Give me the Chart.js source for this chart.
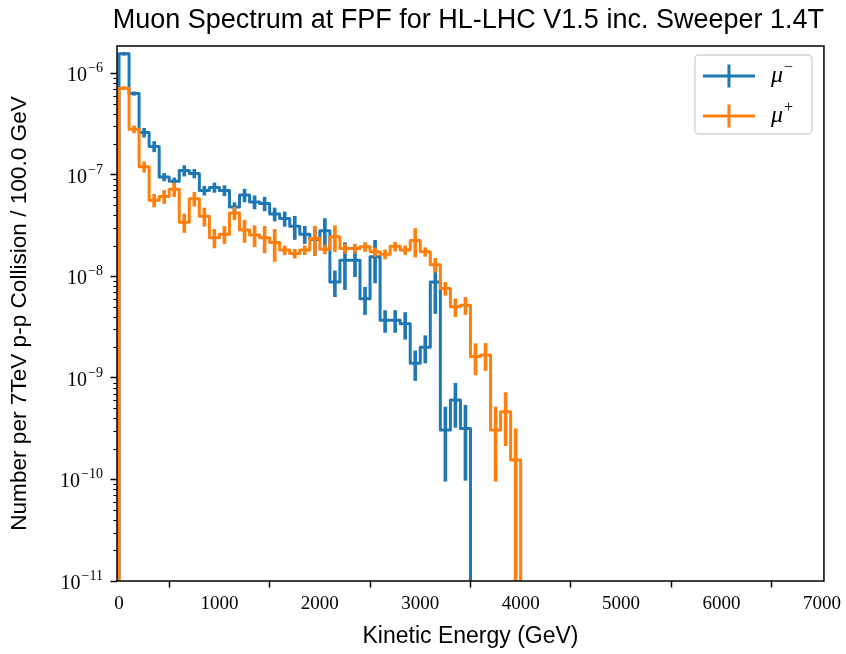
<!DOCTYPE html>
<html>
<head>
<meta charset="utf-8">
<title>Muon Spectrum at FPF</title>
<script src="https://cdn.jsdelivr.net/npm/chart.js@4.4.1/dist/chart.umd.min.js"></script>
<style>
  html, body { margin: 0; padding: 0; background: #fff; }
</style>
</head>
<body>
<canvas id="spectrum" width="846" height="654"></canvas>
<script>
// binning in GeV, histogram starts at 0
var binWidth = 100;

// mu- rate per bin (0-100, 100-200, ...), last filled bin ends at 3500 GeV
var muMinus = [
  1.55e-6, 6.3e-7, 2.6e-7, 1.9e-7, 9.5e-8, 8.6e-8, 1.1e-7, 1.03e-7, 7.0e-8, 7.5e-8,
  7.0e-8, 4.8e-8, 6.3e-8, 5.4e-8, 5.2e-8, 4.1e-8, 3.7e-8, 3.1e-8, 2.6e-8, 2.3e-8,
  2.8e-8, 8.8e-9, 1.44e-8, 1.44e-8, 6.0e-9, 1.56e-8, 3.7e-9, 3.7e-9, 3.4e-9, 1.39e-9,
  2.0e-9, 8.8e-9, 3.06e-10, 6.05e-10, 3.18e-10
];
var muMinusErr = [
  5e-8, 2.5e-8, 2.6e-8, 2.2e-8, 8e-9, 7e-9, 1.3e-8, 1.0e-8, 7e-9, 8e-9,
  8e-9, 5e-9, 9e-9, 8e-9, 8e-9, 6e-9, 6e-9, 8e-9, 5e-9, 7e-9,
  9e-9, 2.5e-9, 7e-9, 4.5e-9, 1.8e-9, 7e-9, 9e-10, 9e-10, 1.0e-9, 4.5e-10,
  6e-10, 4.5e-9, 2.1e-10, 2.8e-10, 2.2e-10
];

// mu+ rate per bin, last filled bin ends at 4000 GeV
var muPlus = [
  7.1e-7, 2.8e-7, 1.2e-7, 5.6e-8, 6.1e-8, 7.2e-8, 3.4e-8, 5.8e-8, 3.9e-8, 2.4e-8,
  2.6e-8, 4.2e-8, 2.85e-8, 2.55e-8, 2.4e-8, 2.15e-8, 1.81e-8, 1.68e-8, 1.81e-8, 2.36e-8,
  1.85e-8, 2.45e-8, 1.88e-8, 1.88e-8, 1.95e-8, 1.74e-8, 1.65e-8, 1.97e-8, 1.81e-8, 2.25e-8,
  1.74e-8, 1.3e-8, 7.6e-9, 5.0e-9, 5.2e-9, 1.62e-9, 1.68e-9, 3.06e-10, 4.65e-10, 1.55e-10
];
var muPlusErr = [
  2.5e-8, 2.2e-8, 1.4e-8, 8e-9, 9e-9, 1.1e-8, 7e-9, 9e-9, 8e-9, 5e-9,
  5e-9, 6e-9, 7e-9, 6e-9, 7e-9, 7.5e-9, 1.8e-9, 1.7e-9, 1.8e-9, 7.5e-9,
  1.9e-9, 7e-9, 1.9e-9, 1.9e-9, 2e-9, 1.7e-9, 1.7e-9, 2e-9, 1.8e-9, 7e-9,
  1.7e-9, 2e-9, 1.1e-9, 1.0e-9, 1.0e-9, 5.5e-10, 5e-10, 2.1e-10, 2.5e-10, 1.6e-10
];

var xTicks = [0, 1000, 2000, 3000, 4000, 5000, 6000, 7000];
var yTicks = [1e-11, 1e-10, 1e-9, 1e-8, 1e-7, 1e-6];
var yTickExp = ['\u221211', '\u221210', '\u22129', '\u22128', '\u22127', '\u22126'];

var seriesSymbol = ['\u03bc', '\u03bc'];
var seriesCharge = ['\u2212', '+'];
var seriesColor = ['#1f77b4', '#ff7f0e'];

var xMin = -20, xMax = 7020;
var yMin = 1e-11, yMax = 1.85e-6;

var sansFont = "'Liberation Sans', 'DejaVu Sans', sans-serif";
var serifFont = "'Liberation Serif', 'DejaVu Serif', serif";

// outline of a step histogram, dropping to the floor at both ends
function stepPoints(vals) {
  var pts = [{ x: 0, y: yMin }];
  vals.forEach(function (v, i) {
    pts.push({ x: i * binWidth, y: v > 0 ? v : yMin });
    pts.push({ x: (i + 1) * binWidth, y: v > 0 ? v : yMin });
  });
  pts.push({ x: vals.length * binWidth, y: yMin });
  return pts;
}

// vertical error bars at bin centres, as floating bars
function errorBars(vals, errs) {
  return vals.map(function (v, i) {
    var lo = v - errs[i];
    return { x: (i + 0.5) * binWidth, y: [lo > 0 ? lo : yMin, v + errs[i]] };
  });
}

function lineSet(i, vals, order) {
  return {
    type: 'line',
    label: seriesSymbol[i] + seriesCharge[i],
    data: stepPoints(vals),
    borderColor: seriesColor[i],
    borderWidth: 3,
    borderJoinStyle: 'round',
    tension: 0,
    pointRadius: 0,
    fill: false,
    clip: 0,
    order: order
  };
}

function barSet(i, vals, errs, order) {
  return {
    type: 'bar',
    data: errorBars(vals, errs),
    backgroundColor: seriesColor[i],
    borderWidth: 0,
    barThickness: 3,
    grouped: false,
    clip: 0,
    order: order
  };
}

// spines on all four sides, minor log ticks and the power-of-ten labels
var framePlugin = {
  id: 'frame',
  afterDraw: function (chart) {
    var a = chart.chartArea, ctx = chart.ctx, ys = chart.scales.y;
    ctx.save();
    ctx.strokeStyle = '#000';
    ctx.lineWidth = 1.1;
    for (var e = -11; e <= -6; e++) {
      for (var k = 2; k <= 9; k++) {
        var v = k * Math.pow(10, e);
        if (v >= yMax) continue;
        var py = Math.round(ys.getPixelForValue(v)) + 0.5;
        ctx.beginPath();
        ctx.moveTo(a.left - 3.7, py);
        ctx.lineTo(a.left, py);
        ctx.stroke();
      }
    }
    ctx.lineWidth = 1.5;
    ctx.strokeRect(a.left, a.top, a.right - a.left, a.bottom - a.top);

    ctx.fillStyle = '#000';
    ctx.textBaseline = 'alphabetic';
    ctx.textAlign = 'right';
    var xr = a.left - 14;
    yTicks.forEach(function (t, i) {
      var ty = ys.getPixelForValue(t);
      ctx.font = '14px ' + serifFont;
      var ew = ctx.measureText(yTickExp[i]).width;
      ctx.fillText(yTickExp[i], xr, ty - 1);
      ctx.font = '20px ' + serifFont;
      ctx.fillText('10', xr - ew - 1, ty + 8);
    });
    ctx.restore();
  }
};

// legend box in the upper right corner of the axes
var legendPlugin = {
  id: 'legendBox',
  afterDraw: function (chart) {
    var a = chart.chartArea, ctx = chart.ctx;
    var w = 117, h = 79;
    var x0 = a.right - 12 - w, y0 = a.top + 9;
    ctx.save();
    ctx.fillStyle = 'rgba(255,255,255,0.8)';
    ctx.strokeStyle = 'rgba(204,204,204,0.9)';
    ctx.lineWidth = 1.3;
    ctx.beginPath();
    ctx.roundRect(x0, y0, w, h, 4);
    ctx.fill();
    ctx.stroke();
    for (var i = 0; i < seriesColor.length; i++) {
      var cy = y0 + 21 + i * 40;
      ctx.strokeStyle = seriesColor[i];
      ctx.lineWidth = 3;
      ctx.beginPath();
      ctx.moveTo(x0 + 8, cy);
      ctx.lineTo(x0 + 60, cy);
      ctx.moveTo(x0 + 34, cy - 11.5);
      ctx.lineTo(x0 + 34, cy + 11.5);
      ctx.stroke();
      ctx.fillStyle = '#000';
      ctx.textBaseline = 'alphabetic';
      ctx.textAlign = 'left';
      ctx.font = 'italic 24px ' + serifFont;
      ctx.fillText(seriesSymbol[i], x0 + 76, cy + 6);
      ctx.font = '16px ' + serifFont;
      ctx.fillText(seriesCharge[i], x0 + 89, cy - 4);
    }
    ctx.restore();
  }
};

new Chart(document.getElementById('spectrum'), {
  type: 'line',
  data: {
    datasets: [
      lineSet(0, muMinus, 3),
      barSet(0, muMinus, muMinusErr, 2),
      lineSet(1, muPlus, 1),
      barSet(1, muPlus, muPlusErr, 0)
    ]
  },
  options: {
    responsive: false,
    devicePixelRatio: 1,
    animation: false,
    events: [],
    layout: { padding: { left: 0, right: 22, top: 0, bottom: 0 } },
    plugins: {
      legend: { display: false },
      tooltip: { enabled: false },
      title: {
        display: true,
        text: 'Muon Spectrum at FPF for HL-LHC V1.5 inc. Sweeper 1.4T',
        align: 'end',
        color: '#000',
        font: { family: sansFont, size: 27, weight: 'normal' },
        padding: { top: 4, bottom: 9.6 }
      }
    },
    scales: {
      x: {
        type: 'linear',
        min: xMin,
        max: xMax,
        offset: false,
        afterBuildTicks: function (s) {
          s.ticks = xTicks.map(function (v) { return { value: v }; });
        },
        afterFit: function (s) { s.height = 73; },
        ticks: {
          callback: function (v) { return String(v); },
          color: '#000',
          font: { family: serifFont, size: 19 },
          padding: 5,
          maxRotation: 0,
          autoSkip: false
        },
        grid: { display: true, drawOnChartArea: false, drawTicks: true, tickLength: 6.5, tickWidth: 1.5, tickColor: '#000' },
        border: { display: false },
        title: {
          display: true,
          text: 'Kinetic Energy (GeV)',
          color: '#000',
          font: { family: sansFont, size: 23 },
          padding: { top: 0, bottom: 4 }
        }
      },
      y: {
        type: 'logarithmic',
        min: yMin,
        max: yMax,
        afterBuildTicks: function (s) {
          s.ticks = yTicks.map(function (v) { return { value: v }; });
        },
        afterFit: function (s) { s.width = 117; },
        ticks: { display: false },
        grid: { display: true, drawOnChartArea: false, drawTicks: true, tickLength: 6.5, tickWidth: 1.5, tickColor: '#000' },
        border: { display: false },
        title: {
          display: true,
          text: 'Number per 7TeV p-p Collision / 100.0 GeV',
          color: '#000',
          font: { family: sansFont, size: 22.6 },
          padding: { top: 6, bottom: 0 }
        }
      }
    }
  },
  plugins: [framePlugin, legendPlugin]
});
</script>
</body>
</html>
